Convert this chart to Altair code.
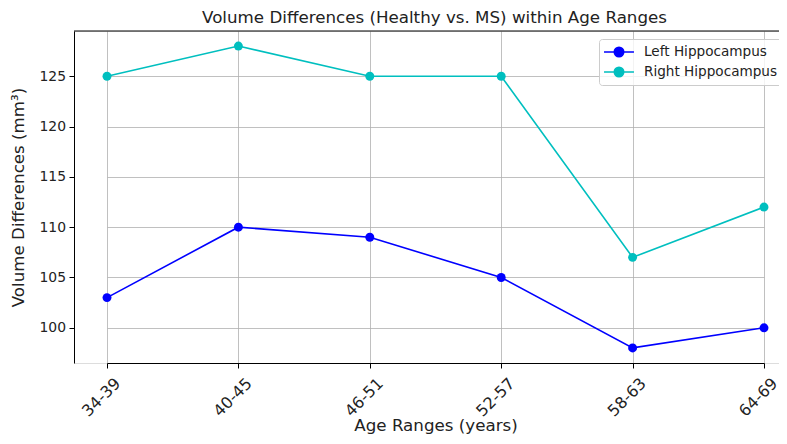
import altair as alt
import pandas as pd

ages = ["34-39", "40-45", "46-51", "52-57", "58-63", "64-69"]
left_vals = [103, 110, 109, 105, 98, 100]
right_vals = [125, 128, 125, 125, 107, 112]
series_names = ["Left Hippocampus", "Right Hippocampus"]
series_colors = ["#0000ff", "#00bfbf"]
y_ticks = [100, 105, 110, 115, 120, 125]

rows = []
for a, l, r in zip(ages, left_vals, right_vals):
    rows.append({"age": a, "series": series_names[0], "value": l})
    rows.append({"age": a, "series": series_names[1], "value": r})
df = pd.DataFrame(rows)

FONT = "DejaVu Sans"
W, H = 705, 332

color = alt.Color(
    "series:N",
    scale=alt.Scale(domain=series_names, range=series_colors),
    legend=alt.Legend(
        title=None,
        orient="none",
        legendX=525,
        legendY=8,
        symbolType="M-2.14,0L2.14,0M-0.68,0A0.68,0.68,0,1,1,0.68,0A0.68,0.68,0,1,1,-0.68,0Z",
        symbolSize=196,
        symbolStrokeWidth=1.5,
        symbolOffset=7,
        labelOffset=17,
        rowPadding=4,
        padding=5,
        labelFontSize=13.6,
        labelFont=FONT,
        labelColor="#222222",
        fillColor="rgba(255,255,255,0.8)",
        strokeColor="#cccccc",
        cornerRadius=3,
    ),
)

x = alt.X(
    "age:O",
    sort=ages,
    scale=alt.Scale(type="point", range=[33, 690], padding=0),
    axis=alt.Axis(
        title="Age Ranges (years)",
        titleFontSize=16.7,
        titleFont=FONT,
        titleFontWeight="normal",
        titleColor="#222222",
        titlePadding=-2,
        labelAngle=315,
        labelAlign="center",
        labelBaseline="middle",
        labelPadding=29,
        labelOffset=-6,
        labelFontSize=16,
        labelFont=FONT,
        labelColor="#222222",
        tickSize=5,
        tickColor="black",
        domainColor="black",
        domainWidth=1,
        grid=True,
        gridColor="#b0b0b0",
        gridWidth=0.8,
    ),
)

y = alt.Y(
    "value:Q",
    scale=alt.Scale(domain=[96.5, 129.5], nice=False, zero=False),
    axis=alt.Axis(
        title="Volume Differences (mm³)",
        titleFontSize=16.7,
        titleFont=FONT,
        titleFontWeight="normal",
        titleColor="#222222",
        titlePadding=11,
        values=y_ticks,
        labelFontSize=13.9,
        labelFont=FONT,
        labelColor="#222222",
        labelPadding=3.5,
        tickSize=5,
        tickColor="black",
        domainColor="black",
        domainWidth=1,
        grid=True,
        gridColor="#b0b0b0",
        gridWidth=0.8,
    ),
)

base = alt.Chart(df)
lines = base.mark_line(strokeWidth=1.6).encode(x=x, y=y, color=color, detail="series:N")
points = base.mark_point(filled=True, size=80, opacity=1).encode(x=x, y=y, color=color)
top_spine = alt.Chart(pd.DataFrame({"k": [0]})).mark_rule(color="black", strokeWidth=1).encode(
    x=alt.value(0), x2=alt.value(W), y=alt.value(0)
)

chart = (
    alt.layer(lines, points, top_spine)
    .properties(
        width=W,
        height=H,
        title=alt.Title(
            "Volume Differences (Healthy vs. MS) within Age Ranges",
            fontSize=16.7,
            font=FONT,
            fontWeight="normal",
            color="#222222",
            anchor="middle",
            offset=4,
            dx=8,
        ),
        autosize=alt.AutoSizeParams(type="none"),
        padding={"left": 66, "top": 23, "right": 0, "bottom": 72},
    )
    .configure_view(strokeWidth=0)
    .configure(background="white")
)

chart.save("out.html", embed_options={"renderer": "svg", "actions": False})
